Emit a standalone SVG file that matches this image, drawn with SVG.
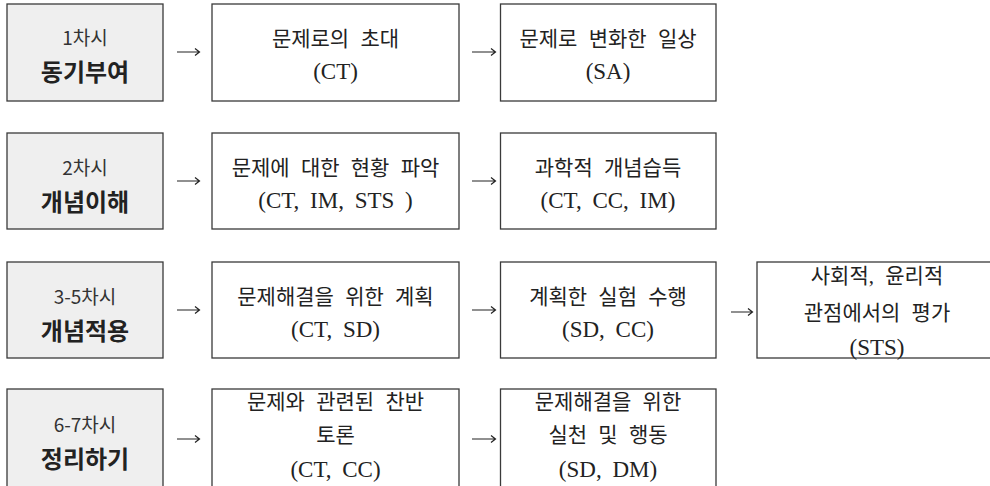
<svg xmlns="http://www.w3.org/2000/svg" width="990" height="486" viewBox="0 0 990 486">
<style>
.box{fill:#fff;stroke:#3a3a3a;stroke-width:1.3}
.gray{fill:#efefef;stroke:#3a3a3a;stroke-width:1.3}
.t{font-family:"Liberation Serif","Noto Sans CJK KR",serif;font-size:21px;word-spacing:6px;fill:#222;text-anchor:middle}
.l{font-family:"Liberation Serif","Noto Sans CJK KR",serif;font-size:23px;word-spacing:5px;fill:#222;text-anchor:middle}
.g{font-family:"Noto Sans CJK KR",sans-serif;font-size:19px;fill:#333;text-anchor:middle}
.gb{font-family:"Noto Sans CJK KR",sans-serif;font-size:24px;font-weight:bold;fill:#222;text-anchor:middle}
.arr{fill:none;stroke:#222;stroke-width:1.2}
</style>
<rect width="990" height="486" fill="#fff"/>
<g id="n1a"><rect class="gray" x="7" y="4" width="156" height="97"/><text class="g" x="85" y="45">1차시</text><text class="gb" x="85" y="81">동기부여</text></g>
<g id="n1b"><rect class="box" x="212" y="4" width="247" height="97"/><text class="t" x="335.5" y="46">문제로의 초대</text><text class="l" x="335.5" y="79">(CT)</text></g>
<g id="n1c"><rect class="box" x="500.5" y="4" width="215.5" height="97"/><text class="t" x="608" y="46">문제로 변화한 일상</text><text class="l" x="608" y="79">(SA)</text></g>

<g id="n2a"><rect class="gray" x="7" y="133" width="156" height="96"/><text class="g" x="85" y="175">2차시</text><text class="gb" x="85" y="211">개념이해</text></g>
<g id="n2b"><rect class="box" x="212" y="133" width="247" height="96"/><text class="t" x="335.5" y="175">문제에 대한 현황 파악</text><text class="l" x="335.5" y="208">(CT, IM, STS )</text></g>
<g id="n2c"><rect class="box" x="500.5" y="133" width="215.5" height="96"/><text class="t" x="608" y="175">과학적 개념습득</text><text class="l" x="608" y="208">(CT, CC, IM)</text></g>

<g id="n3a"><rect class="gray" x="7" y="262" width="156" height="96"/><text class="g" x="85" y="304">3-5차시</text><text class="gb" x="85" y="340">개념적용</text></g>
<g id="n3b"><rect class="box" x="212" y="262" width="247" height="96"/><text class="t" x="335.5" y="304">문제해결을 위한 계획</text><text class="l" x="335.5" y="337">(CT, SD)</text></g>
<g id="n3c"><rect class="box" x="500.5" y="262" width="215.5" height="96"/><text class="t" x="608" y="304">계획한 실험 수행</text><text class="l" x="608" y="337">(SD, CC)</text></g>
<g id="n3d"><rect class="box" x="757" y="262" width="240" height="96"/><text class="t" x="877" y="283">사회적, 윤리적</text><text class="t" x="877" y="320">관점에서의 평가</text><text class="l" x="877" y="355">(STS)</text></g>

<g id="n4a"><rect class="gray" x="7" y="389" width="156" height="100"/><text class="g" x="85" y="432">6-7차시</text><text class="gb" x="85" y="468">정리하기</text></g>
<g id="n4b"><rect class="box" x="212" y="389" width="247" height="100"/><text class="t" x="335.5" y="409">문제와 관련된 찬반</text><text class="t" x="335.5" y="442">토론</text><text class="l" x="335.5" y="477">(CT, CC)</text></g>
<g id="n4c"><rect class="box" x="500.5" y="389" width="215.5" height="100"/><text class="t" x="608" y="409">문제해결을 위한</text><text class="t" x="608" y="442">실천 및 행동</text><text class="l" x="608" y="477">(SD, DM)</text></g>

<g id="connectors" class="arr">
<path d="M177,52H199M195,48.5L199.5,52L195,55.5"/>
<path d="M472,52H495M491,48.5L495.5,52L491,55.5"/>
<path d="M177,181H199M195,177.5L199.5,181L195,184.5"/>
<path d="M472,181H495M491,177.5L495.5,181L491,184.5"/>
<path d="M177,310H199M195,306.5L199.5,310L195,313.5"/>
<path d="M472,310H495M491,306.5L495.5,310L491,313.5"/>
<path d="M731,312H752M748,308.5L752.5,312L748,315.5"/>
<path d="M177,439H199M195,435.5L199.5,439L195,442.5"/>
<path d="M472,439H495M491,435.5L495.5,439L491,442.5"/>
</g>
</svg>
